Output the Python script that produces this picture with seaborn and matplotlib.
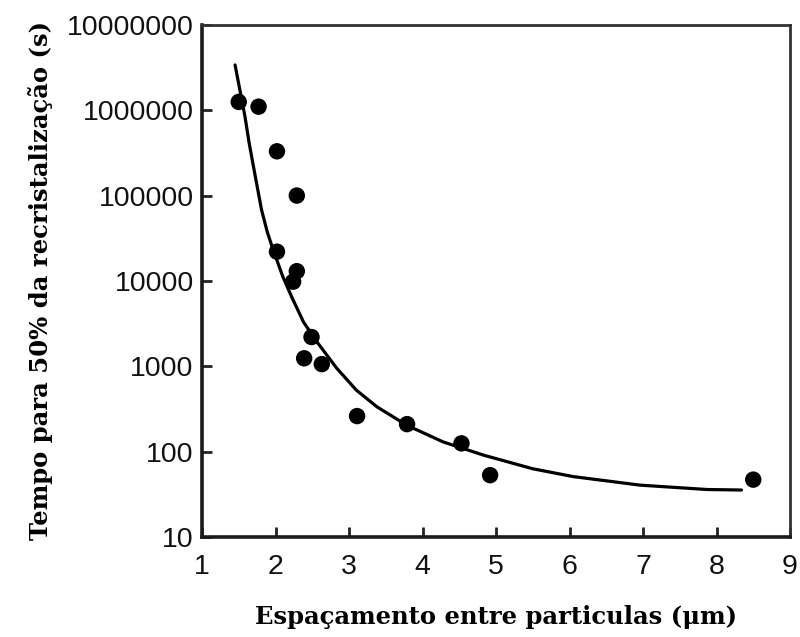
import numpy as np
import matplotlib
matplotlib.use("Agg")
import matplotlib.pyplot as plt
import pandas as pd
import seaborn as sns

sns.set_theme(style='ticks')

# measured points (spacing in um, time to 50% recrystallisation in s)
spacing = [1.50, 1.77, 2.02, 2.29, 2.02, 2.29, 2.24, 2.49, 2.39, 2.63, 3.11, 3.79, 4.53, 4.92, 8.50]
time_50 = [1.25e6, 1.1e6, 3.3e5, 1.0e5, 2.2e4, 1.3e4, 9.8e3, 2.2e3, 1.24e3, 1.06e3, 261, 210, 125, 53, 47]

# fitted curve
curve_x = [1.45, 1.585, 1.64, 1.70, 1.81, 1.89, 1.97, 2.10, 2.22, 2.38, 2.56, 2.83, 3.10,
           3.38, 3.785, 4.28, 4.83, 5.5, 6.05, 6.96, 7.87, 8.34]
curve_y = [3.39e6, 8.4e5, 4.2e5, 2.19e5, 6.8e4, 3.7e4, 2.29e4, 1.12e4, 6.5e3, 3.31e3, 1.95e3, 955, 525,
           335, 204, 130, 91, 63, 51, 40.5, 36, 35.5]

x_ticks = [1, 2, 3, 4, 5, 6, 7, 8, 9]
y_ticks = [10, 100, 1000, 10000, 100000, 1000000, 10000000]
y_labels = ["10", "100", "1000", "10000", "100000", "1000000", "10000000"]

pts = pd.DataFrame({"spacing": spacing, "time": time_50})
fit = pd.DataFrame({"spacing": curve_x, "time": curve_y})

fig = plt.figure(figsize=(8, 6.37), dpi=100)
ax = fig.add_axes([0.2525, 0.157, 0.735, 0.804])

sns.lineplot(data=fit, x="spacing", y="time", color="black", linewidth=2.3, ax=ax, sort=False)
sns.scatterplot(data=pts, x="spacing", y="time", color="black", s=140, edgecolor="none", ax=ax)

ax.set_yscale("log")
ax.set_xlim(1, 9)
ax.set_ylim(10, 1e7)
ax.set_xticks(x_ticks)
ax.set_xticklabels([str(v) for v in x_ticks])
ax.set_yticks(y_ticks)
ax.set_yticklabels(y_labels)
ax.minorticks_off()

for lab in ax.get_xticklabels() + ax.get_yticklabels():
    lab.set_family("Liberation Sans")
    lab.set_fontsize(20.5)
    lab.set_color("#111111")
ax.tick_params(axis="both", direction="in", length=7, width=2, color="#222222")
ax.tick_params(axis="x", pad=12)
ax.tick_params(axis="y", pad=6)

for side in ["left", "bottom"]:
    ax.spines[side].set_linewidth(2.6)
    ax.spines[side].set_color("#1a1a1a")
for side in ["top", "right"]:
    ax.spines[side].set_linewidth(2)
    ax.spines[side].set_color("#333333")

lab_font = dict(family="DejaVu Serif", weight="bold", size=17.5, color="black")
ax.set_xlabel("Espaçamento entre particulas (μm)", labelpad=18, **lab_font)
ax.set_ylabel("Tempo para 50% da recristalização (s)", labelpad=10, **lab_font)

fig.savefig("out.png", dpi=100)
